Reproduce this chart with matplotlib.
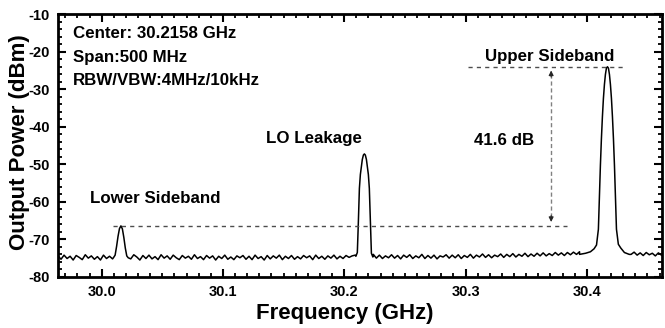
import numpy as np
import matplotlib
matplotlib.use('Agg')
import matplotlib.pyplot as plt
from matplotlib.ticker import MultipleLocator

# noise floor of the analyser trace (dBm), one value every 2.5 MHz from 29.964 GHz
floor_start = 29.964
floor_step = 0.0025
floor_dbm = [
    -74.5, -75.4, -74.3, -75.2, -74.6, -75.6, -74.4, -74.9, -75.5, -74.2,
    -75.1, -74.5, -75.4, -74.7, -75.6, -74.3, -75.2, -74.6, -75.3, -74.4,
    -75.0, -74.3, -75.5, -74.6, -75.3, -74.2, -74.8, -75.6, -74.4, -75.2,
    -74.3, -75.3, -74.7, -75.5, -74.2, -75.1, -74.5, -75.4, -74.3, -75.0,
    -75.5, -74.4, -75.1, -74.6, -75.4, -74.2, -75.2, -74.7, -75.5, -74.4,
    -75.1, -74.5, -75.6, -74.6, -75.2, -74.3, -75.4, -74.8, -75.5, -74.5,
    -75.0, -74.4, -75.4, -74.6, -75.5, -74.3, -75.2, -74.7, -75.6, -74.4,
    -75.3, -74.5, -75.1, -74.3, -75.5, -74.6, -75.2, -74.4, -75.4, -74.7,
    -75.3, -74.4, -75.0, -74.5, -75.5, -74.3, -75.2, -74.6, -75.4, -74.5,
    -75.1, -74.3, -75.3, -74.6, -75.2, -74.4, -74.9, -74.5, -74.3, -74.0,
    -74.0, -74.2, -74.3, -74.5, -74.1, -75.1, -74.3, -75.2, -74.5, -75.0,
    -74.2, -75.1, -74.4, -75.3, -74.3, -74.9, -74.2, -75.2, -74.5, -75.0,
    -74.1, -75.2, -74.4, -75.1, -74.3, -75.3, -74.5, -74.8, -74.2, -75.1,
    -74.3, -75.0, -74.2, -75.2, -74.4, -74.9, -74.1, -75.1, -74.3, -74.8,
    -74.0, -74.9, -74.2, -75.0, -74.3, -74.7, -74.0, -74.9, -74.1, -74.7,
    -73.9, -74.8, -74.1, -74.6, -73.8, -74.7, -74.0, -74.6, -73.8, -74.5,
    -73.7, -74.5, -73.9, -74.4, -73.6, -74.3, -73.7, -74.4, -73.6, -74.2,
    -73.5, -74.1, -73.4, -73.9, -73.3, -73.6, -73.0, -72.6, -72.2, -72.0,
    -72.0, -72.0, -72.0, -72.0, -72.0, -72.0, -72.0, -72.0, -73.4, -74.1,
    -73.5, -74.3, -73.7, -74.4, -73.6, -74.2, -73.8, -74.5, -73.7, -74.3,
]

# tones: centre (GHz), offsets (MHz) and levels (dBm)
lsb_center = 30.0159
lsb_offset = [-6.0, -4.8, -3.6, -2.4, -1.2, 0.0, 1.2, 2.4, 3.6, 4.8, 6.0]
lsb_dbm = [-74.9, -74.3, -72.0, -69.3, -67.2, -66.5, -67.3, -69.6, -72.4, -74.5, -75.0]

lo_center = 30.2166
lo_offset = [-7.0, -5.8, -5.0, -4.1, -3.3, -2.5, -1.7, -0.8, 0.0,
             0.8, 1.7, 2.5, 3.3, 4.1, 5.0, 5.8, 7.0]
lo_dbm = [-74.6, -73.6, -66.0, -56.5, -52.8, -50.7, -48.8, -47.6, -47.3,
          -47.6, -48.8, -50.7, -52.8, -56.5, -66.0, -73.8, -74.8]

usb_center = 30.4170
usb_offset = [-23.0, -18.0, -14.0, -11.0, -9.0, -7.45, -6.62, -5.8, -4.97, -4.14,
              -3.31, -2.48, -1.66, -0.83, 0.0, 0.83, 1.66, 2.48, 3.31, 4.14,
              4.97, 5.8, 6.62, 7.45, 9.0, 11.0, 14.0, 18.0]
usb_dbm = [-74.1, -73.8, -73.4, -72.6, -71.6, -67.4, -58.5, -50.4, -43.3, -37.4,
           -32.5, -28.8, -26.1, -24.4, -24.05, -24.4, -26.1, -28.8, -32.5, -37.4,
           -43.3, -50.4, -58.5, -67.4, -71.4, -72.4, -73.6, -74.1]

# build the trace: floor points outside the tones plus the tone points
f_floor = floor_start + floor_step * np.arange(len(floor_dbm))
p_floor = np.array(floor_dbm)
keep = np.ones(len(f_floor), dtype=bool)
freqs = []
levels = []
for c, off, lev in [(lsb_center, lsb_offset, lsb_dbm),
                    (lo_center, lo_offset, lo_dbm),
                    (usb_center, usb_offset, usb_dbm)]:
    f_tone = c + np.array(off) / 1000.0
    keep &= ~((f_floor >= f_tone[0]) & (f_floor <= f_tone[-1]))
    freqs.extend(f_tone)
    levels.extend(lev)
freqs.extend(f_floor[keep])
levels.extend(p_floor[keep])
order = np.argsort(freqs)
freqs = np.array(freqs)[order]
levels = np.array(levels)[order]

plt.rcParams['font.family'] = ['Liberation Sans', 'DejaVu Sans']
plt.rcParams['font.weight'] = 'bold'

fig = plt.figure(figsize=(6.65, 3.28), dpi=100)
ax = fig.add_axes([0.0872, 0.157, 0.9083, 0.8])

ax.plot(freqs, levels, color='black', lw=1.1)

ax.set_xlim(29.964, 30.462)
ax.set_ylim(-80, -10)
ax.xaxis.set_major_locator(MultipleLocator(0.1))
ax.xaxis.set_minor_locator(MultipleLocator(0.01))
ax.yaxis.set_major_locator(MultipleLocator(10))
ax.yaxis.set_minor_locator(MultipleLocator(2))
ax.set_xticks([30.0, 30.1, 30.2, 30.3, 30.4])
ax.set_xticklabels(['30.0', '30.1', '30.2', '30.3', '30.4'])
ax.set_yticks(range(-80, -9, 10))
ax.set_yticklabels([str(v) for v in range(-80, -9, 10)])

ax.tick_params(which='both', direction='in', top=True, right=True,
               labelsize=10.5)
ax.tick_params(which='major', length=6, width=1.5, pad=6)
ax.tick_params(which='minor', length=3, width=1.3)
for sp in ax.spines.values():
    sp.set_linewidth(2)

ax.set_xlabel('Frequency (GHz)', fontsize=16, fontweight='bold')
ax.set_ylabel('Output Power (dBm)', fontsize=16, fontweight='bold')
ax.xaxis.set_label_coords(0.475, -0.1)
ax.yaxis.set_label_coords(-0.047, 0.514)

# reference lines and the 41.6 dB marker
dash = dict(color='0.3', lw=1, ls=(0, (3, 3)))
ax.plot([30.302, 30.4315], [-24.05, -24.05], **dash)
ax.plot([30.0093, 30.3838], [-66.5, -66.5], **dash)
ax.plot([30.3706, 30.3706], [-26.0, -64.5], color='0.5', lw=1, ls=(0, (3, 2)))
ax.annotate('', xy=(30.3706, -24.3), xytext=(30.3706, -27.5),
            arrowprops=dict(arrowstyle='-|>', color='0.15', lw=0.8, mutation_scale=7))
ax.annotate('', xy=(30.3706, -66.2), xytext=(30.3706, -63.0),
            arrowprops=dict(arrowstyle='-|>', color='0.15', lw=0.8, mutation_scale=7))

fs = 12.2
ax.text(30.332, -43.6, '41.6 dB', fontsize=fs, ha='center', va='center')
ax.text(30.044, -59.1, 'Lower Sideband', fontsize=fs, ha='center', va='center')
ax.text(30.175, -43.1, 'LO Leakage', fontsize=fs, ha='center', va='center')
ax.text(30.369, -21.2, 'Upper Sideband', fontsize=fs, ha='center', va='center')

ax.text(29.976, -15.1, 'Center: 30.2158 GHz', fontsize=fs, va='center')
ax.text(29.976, -21.5, 'Span:500 MHz', fontsize=fs, va='center')
ax.text(29.976, -27.6, 'RBW/VBW:4MHz/10kHz', fontsize=fs, va='center')

fig.savefig('out.png', dpi=100)
